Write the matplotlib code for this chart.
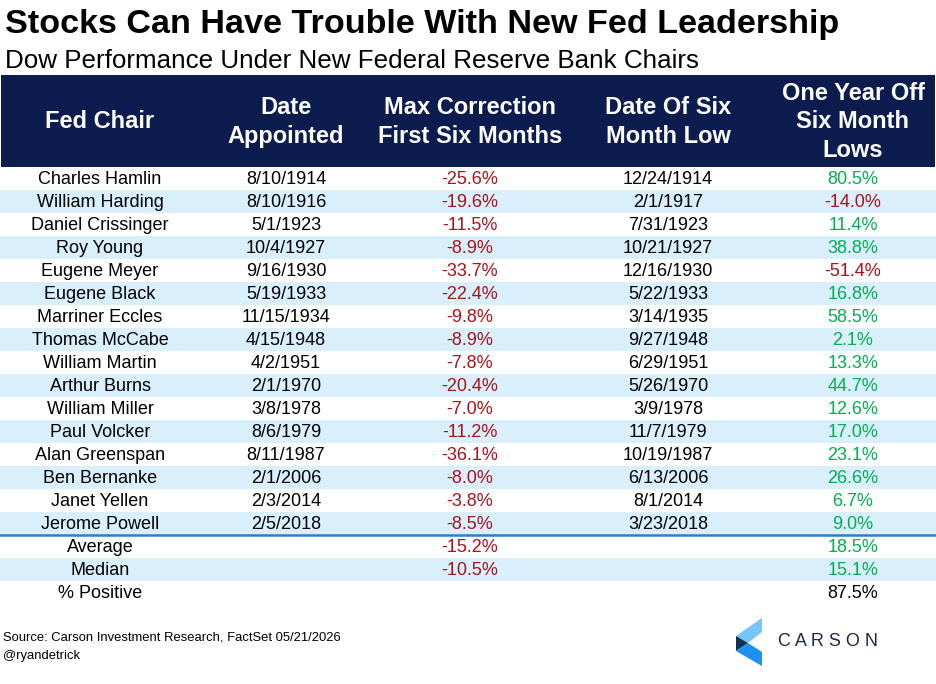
import matplotlib
matplotlib.use("Agg")
import matplotlib.pyplot as plt
import matplotlib.patches as mpatches

plt.rcParams["font.family"] = ["Liberation Sans", "DejaVu Sans"]

# --- data ---
chairs = ["Charles Hamlin", "William Harding", "Daniel Crissinger", "Roy Young",
          "Eugene Meyer", "Eugene Black", "Marriner Eccles", "Thomas McCabe",
          "William Martin", "Arthur Burns", "William Miller", "Paul Volcker",
          "Alan Greenspan", "Ben Bernanke", "Janet Yellen", "Jerome Powell"]
appointed = ["8/10/1914", "8/10/1916", "5/1/1923", "10/4/1927", "9/16/1930",
             "5/19/1933", "11/15/1934", "4/15/1948", "4/2/1951", "2/1/1970",
             "3/8/1978", "8/6/1979", "8/11/1987", "2/1/2006", "2/3/2014",
             "2/5/2018"]
max_corr = [-25.6, -19.6, -11.5, -8.9, -33.7, -22.4, -9.8, -8.9, -7.8, -20.4,
            -7.0, -11.2, -36.1, -8.0, -3.8, -8.5]
low_dates = ["12/24/1914", "2/1/1917", "7/31/1923", "10/21/1927", "12/16/1930",
             "5/22/1933", "3/14/1935", "9/27/1948", "6/29/1951", "5/26/1970",
             "3/9/1978", "11/7/1979", "10/19/1987", "6/13/2006", "8/1/2014",
             "3/23/2018"]
one_year = [80.5, -14.0, 11.4, 38.8, -51.4, 16.8, 58.5, 2.1, 13.3, 44.7,
            12.6, 17.0, 23.1, 26.6, 6.7, 9.0]
summary_labels = ["Average", "Median", "% Positive"]
summary_corr = [-15.2, -10.5, None]
summary_year = [18.5, 15.1, 87.5]

headers = ["Fed Chair", "Date\nAppointed", "Max Correction\nFirst Six Months",
           "Date Of Six\nMonth Low", "One Year Off\nSix Month\nLows"]

NAVY = "#0C1C4E"
STRIPE = "#DAEFFC"
RED = "#A8121B"
GREEN = "#00B050"

fig = plt.figure(figsize=(9.36, 6.84), dpi=100)
ax = fig.add_axes([0, 0, 1, 1])
ax.set_xlim(0, 936)
ax.set_ylim(684, 0)
ax.axis("off")

# titles
ax.text(5, 24, "Stocks Can Have Trouble With New Fed Leadership", ha="left",
        va="center", fontsize=24.6, fontweight="bold", color="black")
ax.text(5, 61, "Dow Performance Under New Federal Reserve Bank Chairs",
        ha="left", va="center", fontsize=18.7, color="black")

# header band
ax.add_patch(mpatches.Rectangle((1, 75), 934, 92, facecolor=NAVY,
                                edgecolor="none"))
col_x = [100, 286, 470, 668, 853]
for x, h in zip(col_x, headers):
    ax.text(x, 122, h, ha="center", va="center", fontsize=17,
            fontweight="bold", color="white", linespacing=1.33)

ROW_H = 23
TOP = 167


def pct(v):
    return f"{v:.1f}%"


for i in range(len(chairs)):
    y0 = TOP + i * ROW_H
    if i % 2 == 1:
        ax.add_patch(mpatches.Rectangle((0, y0), 936, ROW_H, facecolor=STRIPE,
                                        edgecolor="none"))
    yc = y0 + ROW_H / 2 + 1
    ax.text(col_x[0], yc, chairs[i], ha="center", va="center", fontsize=13)
    ax.text(col_x[1], yc, appointed[i], ha="center", va="center", fontsize=13)
    ax.text(col_x[2], yc, pct(max_corr[i]), ha="center", va="center",
            fontsize=13, color=RED if max_corr[i] < 0 else GREEN)
    ax.text(col_x[3], yc, low_dates[i], ha="center", va="center", fontsize=13)
    ax.text(col_x[4], yc, pct(one_year[i]), ha="center", va="center",
            fontsize=13, color=RED if one_year[i] < 0 else GREEN)

sep_y = TOP + len(chairs) * ROW_H
for j, lab in enumerate(summary_labels):
    y0 = sep_y + j * ROW_H
    if j == 1:
        ax.add_patch(mpatches.Rectangle((0, y0), 936, ROW_H, facecolor=STRIPE,
                                        edgecolor="none"))
    yc = y0 + ROW_H / 2 + 1
    ax.text(col_x[0], yc, lab, ha="center", va="center", fontsize=13)
    if summary_corr[j] is not None:
        ax.text(col_x[2], yc, pct(summary_corr[j]), ha="center", va="center",
                fontsize=13, color=RED)
    col = GREEN if j < 2 else "black"
    ax.text(col_x[4], yc, pct(summary_year[j]), ha="center", va="center",
            fontsize=13, color=col)

ax.plot([0, 936], [sep_y, sep_y], color="#2F7DC8", linewidth=1.8, zorder=3)

# footer
ax.text(3, 637, "Source: Carson Investment Research, FactSet 05/21/2026",
        ha="left", va="center", fontsize=9.4)
ax.text(3, 656, "@ryandetrick", ha="left", va="center", fontsize=9.4)

# logo
ax.add_patch(mpatches.Polygon([(736, 636), (762, 618), (762, 632), (748, 643)],
                              closed=True, facecolor="#74C6F7", edgecolor="none"))
ax.add_patch(mpatches.Polygon([(736, 636), (748, 643), (736, 651)],
                              closed=True, facecolor="#14324F", edgecolor="none"))
ax.add_patch(mpatches.Polygon([(736, 651), (748, 643), (762, 652), (762, 666)],
                              closed=True, facecolor="#1E90F0", edgecolor="none"))
ax.text(828, 641, "C A R S O N", ha="center", va="center", fontsize=13,
        color="#1B2B44")

fig.savefig("out.png", dpi=100)
print("done")
